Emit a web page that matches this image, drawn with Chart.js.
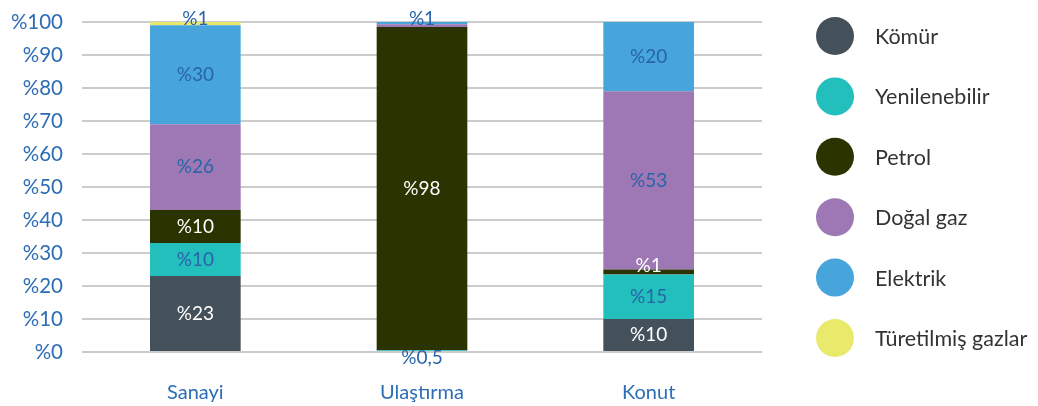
<!DOCTYPE html>
<html lang="tr">
<head>
    <meta charset="UTF-8">
    <title>Sektörel enerji tüketimi</title>
    <script src="https://cdn.jsdelivr.net/npm/chart.js"></script>
    <style>
        html, body { margin: 0; padding: 0; background: #fff; }
        #wrap { width: 1038px; height: 406px; }
    </style>
</head>
<body>
    <div id="wrap"><canvas id="myChart" width="1038" height="406"></canvas></div>

    <script>
        // kategoriler ve seriler
        var sectors = ['Sanayi', 'Ulaştırma', 'Konut'];
        var seriesNames = ['Kömür', 'Yenilenebilir', 'Petrol', 'Doğal gaz', 'Elektrik', 'Türetilmiş gazlar'];
        var seriesColors = ['#44505a', '#22bfbd', '#2b3300', '#9e78b4', '#48a5dc', '#e9e96c'];

        var komur = [23, 0, 10];
        var yenilenebilir = [10, 0.5, 13.5];
        var petrol = [10, 98, 1.5];
        var dogalGaz = [26, 0.8, 54];
        var elektrik = [30, 0.7, 21];
        var turetilmis = [1, 0, 0];

        // bar üstündeki etiketler (null = yazılmaz)
        var komurLbl = ['%23', null, '%10'];
        var yenilenebilirLbl = ['%10', '%0,5', '%15'];
        var petrolLbl = ['%10', '%98', '%1'];
        var dogalGazLbl = ['%26', null, '%53'];
        var elektrikLbl = ['%30', '%1', '%20'];
        var turetilmisLbl = ['%1', null, null];

        var yTicks = ['%0', '%10', '%20', '%30', '%40', '%50', '%60', '%70', '%80', '%90', '%100'];

        var values = [komur, yenilenebilir, petrol, dogalGaz, elektrik, turetilmis];
        var labels = [komurLbl, yenilenebilirLbl, petrolLbl, dogalGazLbl, elektrikLbl, turetilmisLbl];
        var labelColors = ['#ffffff', '#2a64a8', '#ffffff', '#2a64a8', '#2a64a8', '#2a64a8'];

        var FONT = 'Lato, "Noto Sans", sans-serif';
        var BLUE = '#2d6db5';

        // segment içi yazılar
        var segmentLabels = {
            id: 'segmentLabels',
            afterDatasetsDraw: function (chart) {
                var ctx = chart.ctx;
                ctx.save();
                ctx.font = '19px ' + FONT;
                ctx.textAlign = 'center';
                ctx.textBaseline = 'middle';
                chart.data.datasets.forEach(function (ds, i) {
                    var meta = chart.getDatasetMeta(i);
                    meta.data.forEach(function (bar, j) {
                        var txt = labels[i][j];
                        if (!txt) return;
                        var v = values[i][j];
                        var below = 0;
                        for (var k = 0; k < i; k++) below += values[k][j];
                        var y = (bar.y + bar.base) / 2;
                        var color = labelColors[i];
                        if (v <= 1 && below === 0) { y = bar.base + 7; color = '#2a64a8'; }
                        else if (v <= 1) { y = bar.y - 3; color = '#2a64a8'; }
                        else if (v < 2) { y = y - 6; }
                        ctx.fillStyle = color;
                        ctx.fillText(txt, bar.x, y);
                    });
                });
                ctx.restore();
            }
        };

        // sağdaki lejant
        var sideLegend = {
            id: 'sideLegend',
            afterDraw: function (chart) {
                var ctx = chart.ctx;
                ctx.save();
                ctx.font = '21.5px ' + FONT;
                ctx.textBaseline = 'middle';
                ctx.textAlign = 'left';
                chart.data.datasets.forEach(function (ds, i) {
                    var cy = 36 + i * 60.4;
                    ctx.beginPath();
                    ctx.arc(835, cy, 19, 0, Math.PI * 2);
                    ctx.fillStyle = ds.backgroundColor;
                    ctx.fill();
                    ctx.fillStyle = '#333333';
                    ctx.fillText(ds.label, 875, cy + 1);
                });
                ctx.restore();
            }
        };

        var ctx = document.getElementById('myChart').getContext('2d');
        var myChart = new Chart(ctx, {
            type: 'bar',
            data: {
                labels: sectors,
                datasets: values.map(function (v, i) {
                    return {
                        label: seriesNames[i],
                        data: v,
                        backgroundColor: seriesColors[i],
                        borderWidth: 0,
                        categoryPercentage: 1,
                        barPercentage: 0.4
                    };
                })
            },
            plugins: [segmentLabels, sideLegend],
            options: {
                responsive: false,
                animation: false,
                layout: { padding: { top: 22, right: 276, left: 0, bottom: 0 } },
                plugins: {
                    legend: { display: false },
                    tooltip: { enabled: false }
                },
                scales: {
                    x: {
                        stacked: true,
                        grid: { display: false, drawTicks: false },
                        border: { display: false },
                        ticks: { color: BLUE, font: { family: FONT, size: 20 }, padding: 29 },
                        afterFit: function (s) { s.height = 54; s.paddingLeft = 0; s.paddingRight = 0; }
                    },
                    y: {
                        stacked: true,
                        min: 0,
                        max: 100,
                        grid: { color: '#cccccc', lineWidth: 2, drawTicks: false },
                        border: { display: false },
                        ticks: {
                            stepSize: 10,
                            color: BLUE,
                            padding: 19,
                            font: { family: FONT, size: 20.5 },
                            callback: function (v) { return yTicks[v / 10]; }
                        },
                        afterFit: function (s) { s.width = 82; s.paddingTop = 0; s.paddingBottom = 0; }
                    }
                }
            }
        });
    </script>
</body>
</html>
